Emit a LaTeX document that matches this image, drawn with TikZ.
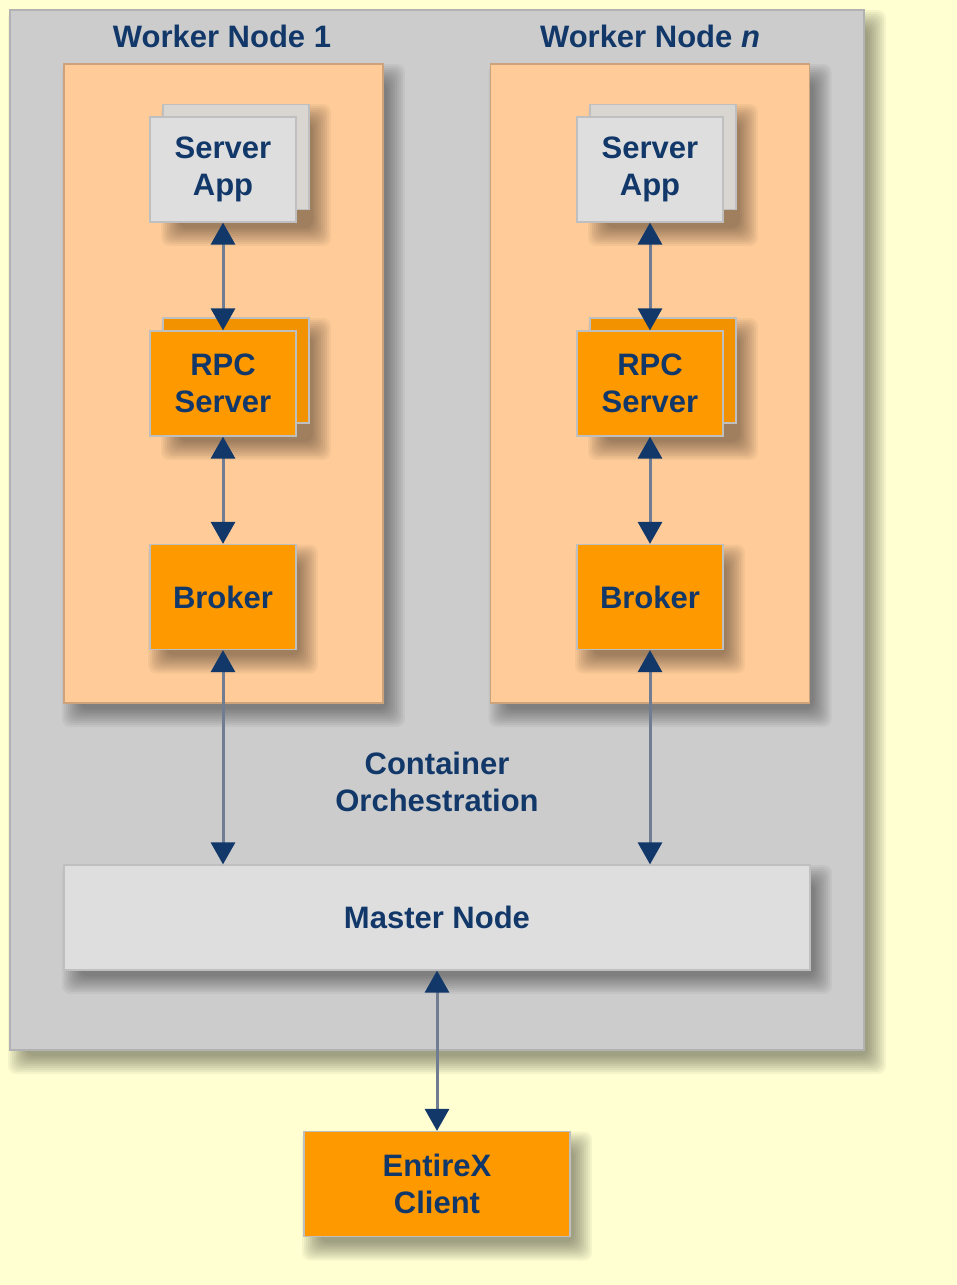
\documentclass[tikz,border=0pt]{standalone}
\usepackage{fontspec}
\setmainfont{Liberation Sans}
\usepackage{xcolor}
\usetikzlibrary{arrows.meta}
\definecolor{paper}{HTML}{FFFFD2}
\definecolor{cluster}{HTML}{CCCCCC}
\definecolor{peach}{HTML}{FFCC99}
\definecolor{pale}{HTML}{DEDEDE}
\definecolor{paleback}{HTML}{D9D6D2}
\definecolor{tangerine}{HTML}{FF9900}
\definecolor{tangback}{HTML}{F29200}
\definecolor{navy}{HTML}{12386A}
\definecolor{wire}{HTML}{6F7C92}
% soft shadow: centre x, centre y, half width, half height
\newcommand\softshade[4]{%
  \foreach \k in {0,...,9}
    \fill[black,opacity=0.045,rounded corners=8pt]
      ({#1-#3+10-12+2*\k},{#2-#4+12-12+2*\k}) rectangle ({#1+#3+10+12-2*\k},{#2+#4+12+12-2*\k});}

\begin{document}
\begin{tikzpicture}[x=1pt,y=-1pt,
    font=\fontsize{31}{37}\selectfont\bfseries,
    txt/.style={text=navy,align=center},
    unit/.style={txt,draw=black!25,line width=1.2pt,minimum width=146pt,minimum height=105pt,inner sep=0pt},
    app/.style={unit,fill=pale},
    rpc/.style={unit,fill=tangerine},
    worker/.style={draw=peach!80!black,line width=1.2pt,fill=peach,minimum width=319pt,minimum height=639pt,inner sep=0pt},
    link/.style={wire,line width=3pt,{Triangle[length=22pt,width=24pt,color=navy]}-{Triangle[length=22pt,width=24pt,color=navy]}}]
            \useasboundingbox (0,0) rectangle (957,1285);
            \fill[paper] (0,0) rectangle (957,1285);
            \softshade{437}{530}{427}{520}
            \node[draw=black!30,line width=1.2pt,fill=cluster,minimum width=854pt,minimum height=1040pt,inner sep=0pt] (cl) at (437,530) {};
            % worker node 1
            \node[txt] (wl1) at (222,36) {Worker Node 1};
            \softshade{223.5}{383.5}{159.5}{319.5}
            \node[worker] (w1) at (223.5,383.5) {};
            \softshade{236}{163}{73}{59}
            \node[app,fill=paleback] (sab1) at (236,157) {};
            \node[app] (sa1) at (223,169.5) {Server\\App};
            \softshade{236}{377}{73}{59}
            \node[rpc,fill=tangback] (rpcb1) at (236,370.5) {};
            \node[rpc] (rpc1) at (223,383.5) {RPC\\Server};
            \softshade{223}{597}{73}{52.5}
            \node[rpc] (br1) at (223,597) {Broker};
            % worker node n
            \node[txt] (wln) at (650,36) {Worker Node \textit{n}};
            \softshade{650}{383.5}{159.5}{319.5}
            \node[worker] (wn) at (650,383.5) {};
            \softshade{663}{163}{73}{59}
            \node[app,fill=paleback] (sabn) at (663,157) {};
            \node[app] (san) at (650,169.5) {Server\\App};
            \softshade{663}{377}{73}{59}
            \node[rpc,fill=tangback] (rpcbn) at (663,370.5) {};
            \node[rpc] (rpcn) at (650,383.5) {RPC\\Server};
            \softshade{650}{597}{73}{52.5}
            \node[rpc] (brn) at (650,597) {Broker};
            % master and client
            \node[txt] (co) at (437,782) {Container\\Orchestration};
            \softshade{437}{917.5}{373}{52.5}
            \node[app,minimum width=746pt] (mn) at (437,917.5) {Master Node};
            \softshade{437}{1184}{133}{52.5}
            \node[rpc,minimum width=266pt] (cli) at (437,1184) {EntireX\\Client};
            \draw[link] (sa1.south)--(rpc1.north);
            \draw[link] (rpc1.south)--(br1.north);
            \draw[link] (br1.south)--(br1.south |- mn.north);
            \draw[link] (san.south)--(rpcn.north);
            \draw[link] (rpcn.south)--(brn.north);
            \draw[link] (brn.south)--(brn.south |- mn.north);
            \draw[link] (mn.south)--(cli.north);
        \end{tikzpicture}
\end{document}
